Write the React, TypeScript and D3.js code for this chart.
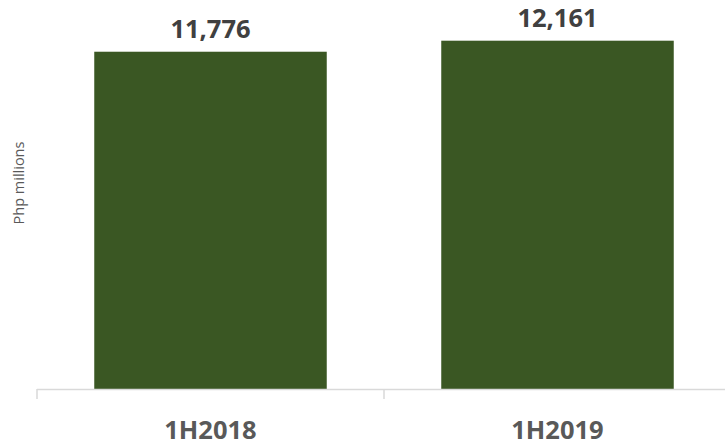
import React from "react";
import * as d3 from "d3";

const categories: string[] = ["1H2018", "1H2019"];
const values: number[] = [11776, 12161];

const W = 725;
const H = 445;

export default function App() {
  const x = d3
    .scaleBand<string>()
    .domain(categories)
    .range([37, 731])
    .paddingInner(0.33)
    .paddingOuter(0.165);
  const y = d3.scaleLinear().domain([0, 13000]).range([389, 16.67]);
  const fmt = d3.format(",");
  const font = "'Open Sans', 'Liberation Sans', sans-serif";
  const step = x.step();
  const tickXs = [37, 37 + step, 37 + 2 * step];

  return (
    <svg
      width={W}
      height={H}
      style={{ position: "absolute", left: 0, top: 0 }}
    >
      <rect width={W} height={H} fill="#ffffff" />
      {categories.map((c, i) => (
        <rect
          key={c}
          x={x(c)}
          y={y(values[i])}
          width={x.bandwidth()}
          height={y(0) - y(values[i])}
          fill="#3a5723"
        />
      ))}
      <line x1={37} x2={W} y1={389.5} y2={389.5} stroke="#d9d9d9" strokeWidth={1.5} />
      {tickXs.map((tx, i) => (
        <line key={i} x1={tx} x2={tx} y1={389} y2={399} stroke="#d9d9d9" strokeWidth={1.5} />
      ))}
      {categories.map((c, i) => (
        <text
          key={"v" + c}
          x={(x(c) as number) + x.bandwidth() / 2}
          y={y(values[i]) - 13.7}
          textAnchor="middle"
          fontFamily={font}
          fontWeight="bold"
          fontSize={25.5}
          fill="#404040"
        >
          {fmt(values[i])}
        </text>
      ))}
      {categories.map((c) => (
        <text
          key={"c" + c}
          x={(x(c) as number) + x.bandwidth() / 2}
          y={438.5}
          textAnchor="middle"
          fontFamily={font}
          fontWeight="bold"
          fontSize={25.5}
          fill="#595959"
        >
          {c}
        </text>
      ))}
      <text
        transform="translate(24,183) rotate(-90)"
        textAnchor="middle"
        fontFamily={font}
        fontSize={14.5}
        fill="#595959"
      >
        Php millions
      </text>
    </svg>
  );
}
